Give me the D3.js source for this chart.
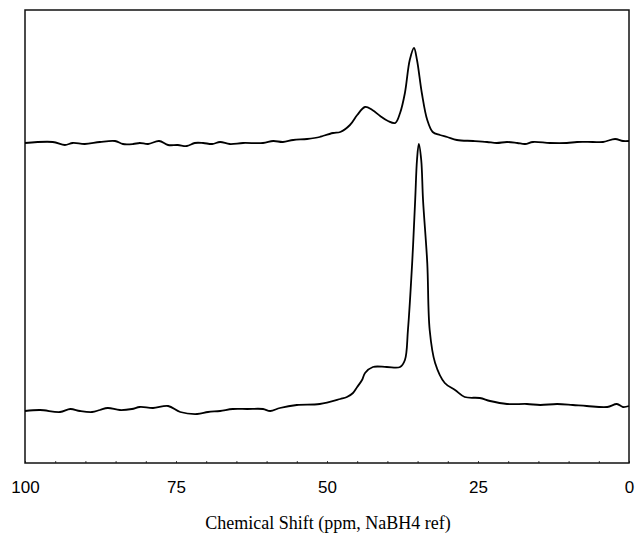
<!DOCTYPE html>
<html>
<head>
<meta charset="utf-8">
<script src="https://cdn.jsdelivr.net/npm/d3@7"></script>
<style>
  body { margin: 0; background: #fff; }
  svg { display: block; }
</style>
</head>
<body>
<svg id="chart"></svg>
<script>
// chemical shift (ppm) and intensity (arbitrary units)
const upperPpm = [100.0, 95.4, 93.4, 92.1, 90.1, 87.6, 85.1, 83.8, 82.1, 81.0, 79.6, 77.8, 76.3, 74.7, 73.2, 71.9, 70.5, 69.0, 67.7, 66.1, 63.9, 60.6, 58.9, 57.3, 55.6, 53.3, 51.2, 50.7, 49.0, 47.8, 46.2, 45.0, 43.7, 42.5, 41.2, 39.9, 38.7, 37.9, 37.1, 36.3, 35.6, 35.1, 34.3, 33.4, 32.5, 31.3, 30.1, 28.5, 25.8, 23.5, 21.9, 20.2, 18.5, 17.2, 15.9, 13.1, 10.3, 8.6, 6.0, 4.3, 2.3, 1.0, 0.0]
const upperInt = [320, 321, 318, 320, 319, 321, 322, 319, 319, 320, 319, 322, 318, 318, 317, 320, 320, 319, 321, 319, 320, 320, 322, 321, 323, 324, 326, 327, 330, 331, 338, 348, 356, 353, 347, 342, 340, 350, 370, 403, 415, 403, 370, 343, 331, 328, 326, 323, 322, 321, 320, 321, 320, 319, 321, 320, 320, 321, 321, 321, 324, 322, 322]

const lowerPpm = [100.0, 97.5, 94.2, 92.5, 90.9, 88.9, 87.6, 86.3, 84.3, 82.3, 81.0, 78.8, 76.3, 74.3, 71.5, 69.7, 67.7, 65.6, 63.2, 60.6, 59.4, 57.8, 55.0, 51.2, 47.8, 46.7, 45.7, 45.0, 44.2, 43.7, 42.4, 40.1, 37.9, 37.1, 36.6, 35.9, 35.4, 35.1, 34.8, 34.4, 34.1, 33.4, 33.0, 32.1, 30.5, 28.8, 27.2, 24.7, 23.0, 20.2, 16.9, 14.7, 11.9, 9.3, 7.0, 3.6, 2.0, 1.0, 0.0]
const lowerInt = [52, 53, 51, 54, 52, 51, 53, 55, 53, 54, 56, 55, 57, 51, 49, 51, 52, 54, 54, 54, 52, 55, 58, 59, 64, 66, 70, 76, 83, 90, 96, 96, 96, 103, 133, 200, 263, 303, 319, 303, 263, 200, 133, 100, 80, 73, 66, 65, 62, 59, 59, 58, 59, 58, 57, 56, 59, 56, 57]

const xTicks = [100, 75, 50, 25, 0]
const xLabel = 'Chemical Shift (ppm, NaBH4 ref)'

const width = 635
const height = 533
const margin = { top: 10, right: 6, bottom: 70, left: 25 }

const svg = d3.select('#chart')
  .attr('width', width)
  .attr('height', height)

const x = d3.scaleLinear()
  .domain([100, 0])
  .range([margin.left, width - margin.right])

const y = d3.scaleLinear()
  .domain([0, 453])
  .range([height - margin.bottom, margin.top])

const line = d3.line()
  .x((d) => x(d[0]))
  .y((d) => y(d[1]))
  .curve(d3.curveCatmullRom.alpha(0.5))

// minor ticks along the bottom, pointing inward
svg.append('g')
  .attr('transform', `translate(0,${y(0)})`)
  .call(d3.axisBottom(x).tickValues(d3.range(0, 101, 5)).tickSize(-2).tickFormat(''))
  .call((g) => g.select('.domain').remove())
  .selectAll('line')
    .attr('stroke', '#444')

// tick labels
svg.append('g')
  .attr('transform', `translate(0,${y(0)})`)
  .call(d3.axisBottom(x).tickValues(xTicks).tickSize(0).tickPadding(18).tickFormat(d3.format('d')))
  .call((g) => g.select('.domain').remove())
  .selectAll('text')
    .attr('font-family', '"Liberation Sans", Arial, sans-serif')
    .attr('font-size', 17)
    .attr('fill', '#000')

// frame
svg.append('rect')
  .attr('x', x(100))
  .attr('y', y(453))
  .attr('width', x(0) - x(100))
  .attr('height', y(0) - y(453))
  .attr('fill', 'none')
  .attr('stroke', '#111')
  .attr('stroke-width', 1.5)

const spectra = [
  d3.zip(upperPpm, upperInt),
  d3.zip(lowerPpm, lowerInt),
]

svg.append('g').selectAll('path')
  .data(spectra)
  .join('path')
    .attr('fill', 'none')
    .attr('stroke', '#000')
    .attr('stroke-width', 1.8)
    .attr('stroke-linejoin', 'round')
    .attr('d', line)

svg.append('text')
  .attr('x', (x(100) + x(0)) / 2 + 1)
  .attr('y', 529)
  .attr('text-anchor', 'middle')
  .attr('font-family', '"Liberation Serif", "Times New Roman", serif')
  .attr('font-size', 18)
  .attr('fill', '#000')
  .text(xLabel)
</script>
</body>
</html>
